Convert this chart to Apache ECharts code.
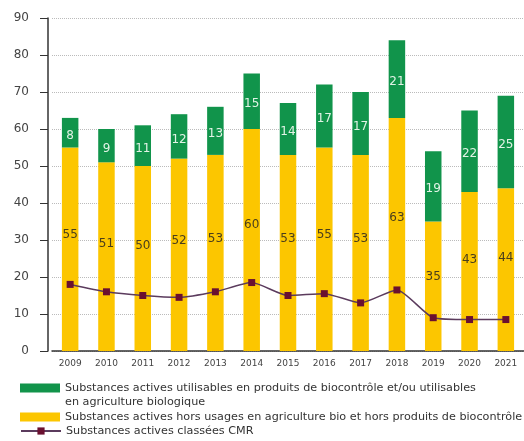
<!DOCTYPE html>
<html>
<head>
<meta charset="utf-8">
<script src="https://cdn.jsdelivr.net/npm/echarts@6/dist/echarts.min.js"></script>
<style>html,body{margin:0;padding:0;background:#fff;}#c{width:524px;height:441px;}</style>
</head>
<body>
<div id="c"></div>
<script>
var years = ['2009','2010','2011','2012','2013','2014','2015','2016','2017','2018','2019','2020','2021'];
var bioValues = [8, 9, 11, 12, 13, 15, 14, 17, 17, 21, 19, 22, 25];
var horsValues = [55, 51, 50, 52, 53, 60, 53, 55, 53, 63, 35, 43, 44];
var cmrValues = [18, 16, 15, 14.5, 16, 18.5, 15, 15.5, 13, 16.5, 9, 8.5, 8.5];
var yTicks = { min: 0, max: 90, interval: 10 };
var nameBio = 'Substances actives utilisables en produits de biocontrôle et/ou utilisables\nen agriculture biologique';
var nameHors = 'Substances actives hors usages en agriculture bio et hors produits de biocontrôle';
var nameCmr = 'Substances actives classées CMR';

var chart = echarts.init(document.getElementById('c'));
var font = 'DejaVu Sans, sans-serif';
var legendText = { fontSize: 11.2, color: '#333', lineHeight: 14, fontFamily: font };
chart.setOption({
  animation: false,
  textStyle: { fontFamily: font },
  grid: { left: 52, right: -1, top: 18, bottom: 90 },
  legend: [
    { data: [{ name: nameBio, icon: 'rect' }], orient: 'vertical', left: 15, top: 362, itemWidth: 40, itemHeight: 9, itemGap: 0,
      formatter: function (n) { return '\u00a0\n' + n; },
      textStyle: legendText },
    { data: [{ name: nameHors, icon: 'rect' }], orient: 'vertical', left: 15, top: 405, itemWidth: 40, itemHeight: 9, itemGap: 0,
      textStyle: legendText },
    { data: [nameCmr], orient: 'vertical', left: 15, top: 419, itemWidth: 40, itemHeight: 9, itemGap: 0,
      textStyle: legendText }
  ],
  xAxis: {
    type: 'category', data: years,
    axisLine: { lineStyle: { color: '#333', width: 1.5 } },
    axisTick: { show: false },
    axisLabel: { fontSize: 9, color: '#444', margin: 8, fontFamily: font }
  },
  yAxis: {
    type: 'value', min: yTicks.min, max: yTicks.max, interval: yTicks.interval, offset: 4,
    axisLine: { show: true, lineStyle: { color: '#333', width: 1.5 } },
    axisTick: { show: true, length: 8, lineStyle: { color: '#333' } },
    axisLabel: { fontSize: 12, color: '#444', margin: 19, fontFamily: font },
    splitLine: { lineStyle: { color: '#bbb', type: 'dotted', width: 1 } }
  },
  series: [
    { name: nameHors, type: 'bar', stack: 's', data: horsValues, barWidth: 16.5,
      itemStyle: { color: '#fcc600' },
      label: { show: true, position: ['50%', '43%'], align: 'center', verticalAlign: 'middle', fontSize: 12, color: '#4a3e1c', fontFamily: font } },
    { name: nameBio, type: 'bar', stack: 's', data: bioValues, barWidth: 16.5,
      itemStyle: { color: '#11944b' },
      label: { show: true, position: 'inside', offset: [0, 3], fontSize: 12, color: '#e2f3e6', fontFamily: font } },
    { name: nameCmr, type: 'line', data: cmrValues, smooth: 0.2,
      symbol: 'rect', symbolSize: 7,
      lineStyle: { color: '#5b3b5d', width: 1.5 },
      itemStyle: { color: '#6a1030' } }
  ]
});
</script>
</body>
</html>
